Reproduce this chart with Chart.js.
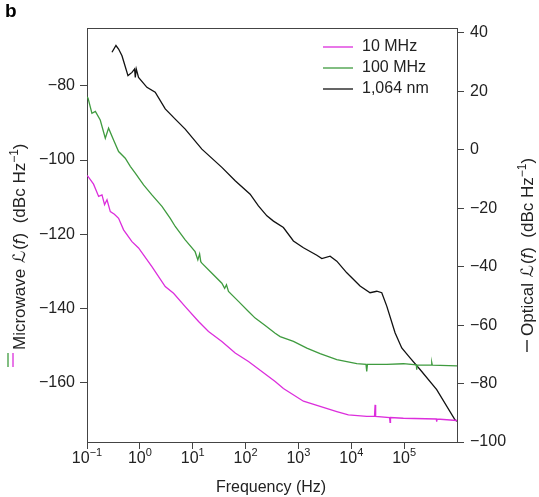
<!DOCTYPE html>
<html>
<head>
<meta charset="utf-8">
<script src="https://cdn.jsdelivr.net/npm/chart.js@4.4.0/dist/chart.umd.min.js"></script>
<style>
  html, body { margin: 0; padding: 0; background: #fff; }
  #wrap { width: 539px; height: 497px; }
</style>
</head>
<body>
<div id="wrap"><canvas id="noiseChart" width="539" height="497"></canvas></div>
<script>
// 10 MHz microwave phase noise (left axis)
const mw10Freq = [0.1, 0.1045, 0.133, 0.166, 0.192, 0.215, 0.239, 0.276, 0.33, 0.396, 0.492, 0.709, 0.944,
  1.69, 3.02, 4.34, 7.21, 12.9, 19.9, 35.6, 63.6, 113.5, 203, 363, 520, 1244, 2570, 5318, 8810,
  19630, 27500, 28200, 28900, 53000, 54100, 55200, 96600, 405000, 413000, 421000, 1000000];
const mw10Level = [-104.2, -104.4, -106.5, -109.8, -109.4, -112.0, -110.7, -113.9, -114.6, -115.7, -118.8, -122.0, -123.7,
  -128.7, -134.1, -135.9, -139.5, -143.5, -146.2, -148.9, -152.0, -154.3, -157.0, -159.7, -161.6, -165.0, -166.4, -167.8, -168.7,
  -169.1, -169.1, -166.0, -169.1, -169.4, -170.7, -169.4, -169.6, -169.8, -170.5, -169.8, -170.2];

// 100 MHz microwave phase noise (left axis)
const mw100Freq = [0.1, 0.1045, 0.124, 0.144, 0.178, 0.222, 0.256, 0.318, 0.396, 0.529, 0.659, 0.819,
  1.175, 1.69, 2.62, 3.76, 4.67, 7.21, 11.1, 12.5, 13.5, 14.2, 14.9, 23.1, 35.6, 40.2, 43.5, 47.5, 73.4, 113.5, 152, 235,
  363, 451, 805, 1443, 2570, 5318, 12700, 19000, 19600, 20200, 46900, 96600, 170000, 173000, 176000,
  325000, 333000, 341000, 1000000];
const mw100Level = [-83.0, -83.3, -87.4, -86.9, -89.2, -94.1, -91.4, -94.6, -97.7, -99.5, -101.7, -103.5,
  -106.7, -109.4, -112.5, -115.7, -117.9, -121.5, -124.7, -126.9, -125.3, -127.4, -127.8, -130.5, -133.2, -134.6, -133.6, -135.4, -138.1, -140.8, -142.6, -144.6,
  -146.7, -147.6, -148.9, -150.7, -152.2, -153.8, -154.9, -155.1, -157.0, -155.1, -155.1, -154.9, -155.2, -156.5, -155.2,
  -155.3, -154.6, -155.3, -155.5];

// 1,064 nm optical phase noise (right axis)
const optFreq = [0.297, 0.353, 0.396, 0.459, 0.49, 0.596, 0.71, 0.795, 0.82, 0.855, 0.944, 1.36, 1.95,
  3.02, 4.67, 7.21, 14.9, 35.6, 63.6, 122, 175, 253, 337, 520, 804, 1244, 2229, 2770, 3975, 5318, 8222,
  14660, 22650, 30330, 37730, 46900, 67300, 90100, 129400, 200000, 413000, 916000, 1000000];
const optLevel = [33.4, 35.7, 34.5, 32.2, 30.5, 25.4, 26.5, 27.7, 24.8, 27.7, 24.8, 21.4, 19.7,
  14.0, 10.5, 7.1, 0.24, -6.0, -10.6, -15.2, -19.2, -22.6, -24.4, -26.6, -31.2, -33.5, -36.1, -37.2, -36.4, -38.1, -42.1,
  -46.6, -48.9, -48.4, -48.9, -53.5, -62.6, -67.8, -71.2, -75.2, -82.1, -92.4, -92.9];

const freqTicks = [0.1, 1, 10, 100, 1000, 10000, 100000];
const freqExps = ['−1', '0', '1', '2', '3', '4', '5'];
const mwTicks = [-160, -140, -120, -100, -80];
const optTicks = [-100, -80, -60, -40, -20, 0, 20, 40];

const FONT = '"Liberation Sans", Arial, Helvetica, "DejaVu Sans", sans-serif';
const AXIS = '#444';
const TEXT = '#222';

function pts(xs, ys) { return xs.map((f, i) => ({ x: f, y: ys[i] })); }
function minus(v) { return String(v).replace('-', '−'); }

// draws text pieces one after another, each with its own font and raise
function drawPieces(ctx, pieces, x, y) {
  pieces.forEach(p => {
    ctx.font = p.font;
    ctx.fillText(p.t, x, y - (p.up || 0));
    x += ctx.measureText(p.t).width + (p.gap || 0);
  });
  return x;
}

function titlePieces(word) {
  const f = '17px ' + FONT;
  return [
    { t: word + ' ', font: f, gap: 1 },
    { t: 'ℒ', font: f, gap: 1 },
    { t: '(', font: f },
    { t: 'f', font: 'italic 17px ' + FONT, gap: 1 },
    { t: ')  (dBc Hz', font: f },
    { t: '−1', font: '12px ' + FONT, up: 7 },
    { t: ')', font: f }
  ];
}

const decor = {
  id: 'decor',
  afterDraw(chart) {
    const ctx = chart.ctx;
    const a = chart.chartArea;
    const xs = chart.scales.x;
    ctx.save();

    // frame top
    ctx.strokeStyle = AXIS;
    ctx.lineWidth = 1;
    ctx.beginPath();
    ctx.moveTo(a.left, a.top + 0.5);
    ctx.lineTo(a.right, a.top + 0.5);
    ctx.stroke();

    ctx.fillStyle = TEXT;
    ctx.textBaseline = 'alphabetic';

    // x tick labels 10^n
    freqTicks.forEach((v, i) => {
      const px = xs.getPixelForValue(v);
      ctx.font = '16px ' + FONT;
      const w1 = ctx.measureText('10').width;
      ctx.font = '11px ' + FONT;
      const w2 = ctx.measureText(freqExps[i]).width;
      const x0 = px - (w1 + w2) / 2;
      drawPieces(ctx, [
        { t: '10', font: '16px ' + FONT },
        { t: freqExps[i], font: '11px ' + FONT, up: 7 }
      ], x0, 463);
    });

    // x title
    ctx.font = '16px ' + FONT;
    ctx.textAlign = 'center';
    ctx.fillText('Frequency (Hz)', 271, 492);
    ctx.textAlign = 'left';

    // left title, rotated
    const ds = chart.data.datasets;
    ctx.save();
    ctx.translate(25, 367);
    ctx.rotate(-Math.PI / 2);
    ctx.lineWidth = 1.3;
    ctx.strokeStyle = ds[1].borderColor;
    ctx.beginPath(); ctx.moveTo(0, -17); ctx.lineTo(14, -17); ctx.stroke();
    ctx.strokeStyle = ds[0].borderColor;
    ctx.beginPath(); ctx.moveTo(0, -12); ctx.lineTo(14, -12); ctx.stroke();
    drawPieces(ctx, titlePieces('Microwave'), 17, 0);
    ctx.restore();

    // right title, rotated
    ctx.save();
    ctx.translate(533, 352);
    ctx.rotate(-Math.PI / 2);
    ctx.lineWidth = 1.3;
    ctx.strokeStyle = ds[2].borderColor;
    ctx.beginPath(); ctx.moveTo(0, -6); ctx.lineTo(12, -6); ctx.stroke();
    drawPieces(ctx, titlePieces('Optical'), 16, 0);
    ctx.restore();

    // legend
    ctx.font = '16px ' + FONT;
    ctx.textBaseline = 'middle';
    ds.forEach((d, i) => {
      const y = 47 + i * 21;
      ctx.strokeStyle = d.borderColor;
      ctx.lineWidth = 1.3;
      ctx.beginPath(); ctx.moveTo(323, y); ctx.lineTo(353, y); ctx.stroke();
      ctx.fillText(d.label, 362, y);
    });

    // panel letter
    ctx.textBaseline = 'alphabetic';
    ctx.font = 'bold 19px ' + FONT;
    ctx.fillStyle = '#000';
    ctx.fillText('b', 5, 17);

    ctx.restore();
  }
};

const ctx = document.getElementById('noiseChart').getContext('2d');
const noiseChart = new Chart(ctx, {
  type: 'line',
  data: {
    datasets: [
      { label: '10 MHz', data: pts(mw10Freq, mw10Level), borderColor: '#dc2edc', yAxisID: 'y' },
      { label: '100 MHz', data: pts(mw100Freq, mw100Level), borderColor: '#3f9b3f', yAxisID: 'y' },
      { label: '1,064 nm', data: pts(optFreq, optLevel), borderColor: '#111111', yAxisID: 'y2' }
    ]
  },
  options: {
    responsive: false,
    animation: false,
    devicePixelRatio: 1,
    elements: {
      point: { radius: 0 },
      line: { borderWidth: 1.3, tension: 0, fill: false }
    },
    layout: { padding: { top: 28, left: 0, right: 0, bottom: 0 } },
    plugins: {
      legend: { display: false },
      tooltip: { enabled: false }
    },
    scales: {
      x: {
        type: 'logarithmic',
        position: 'bottom',
        min: 0.1,
        max: 1000000,
        afterBuildTicks: s => { s.ticks = freqTicks.map(v => ({ value: v })); },
        afterFit: s => { s.height = 55; },
        grid: { drawOnChartArea: false, drawTicks: true, tickLength: 7, color: AXIS },
        border: { color: AXIS, width: 1 },
        ticks: { autoSkip: false, maxRotation: 0, callback: () => '' }
      },
      y: {
        type: 'linear',
        position: 'left',
        min: -176,
        max: -64.4,
        afterBuildTicks: s => { s.ticks = mwTicks.map(v => ({ value: v })); },
        afterFit: s => { s.width = 87; },
        grid: { drawOnChartArea: false, drawTicks: true, tickLength: 7, color: AXIS },
        border: { color: AXIS, width: 1 },
        ticks: { padding: 5, color: TEXT, font: { family: FONT, size: 16 }, callback: v => minus(v) }
      },
      y2: {
        type: 'linear',
        position: 'right',
        min: -100,
        max: 41.7,
        afterBuildTicks: s => { s.ticks = optTicks.map(v => ({ value: v })); },
        afterFit: s => { s.width = 82; },
        grid: { drawOnChartArea: false, drawTicks: true, tickLength: 7, color: AXIS },
        border: { color: AXIS, width: 1 },
        ticks: { padding: 6, color: TEXT, font: { family: FONT, size: 16 }, callback: v => minus(v) }
      }
    }
  },
  plugins: [decor]
});
</script>
</body>
</html>
